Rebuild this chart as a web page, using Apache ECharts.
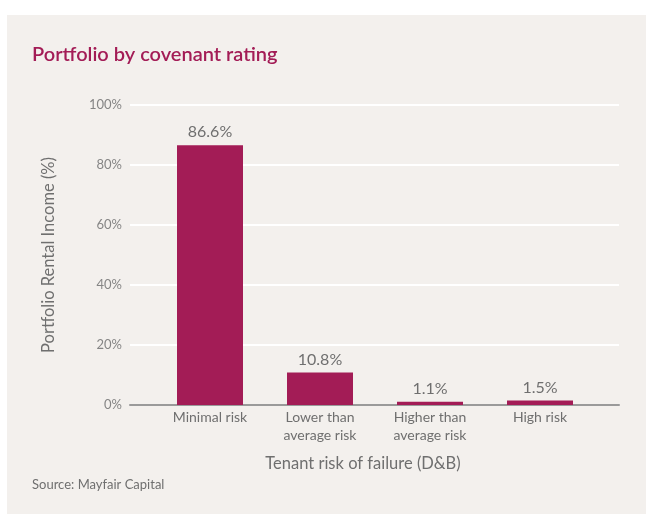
<!DOCTYPE html>
<html>
<head>
<meta charset="utf-8">
<script src="https://cdn.jsdelivr.net/npm/echarts@6/dist/echarts.min.js"></script>
<style>
  html, body { margin: 0; padding: 0; background: #ffffff; }
  #chart { width: 646px; height: 514px; }
</style>
</head>
<body>
<div id="chart"></div>
<script>
// Covenant rating categories (tenant risk of failure, D&B)
const categories = ['Minimal risk', 'Lower than\naverage risk', 'Higher than\naverage risk', 'High risk'];
// Share of portfolio rental income, %
const incomeShare = [86.6, 10.8, 1.1, 1.5];
// Y-axis tick range
const yMin = 0, yMax = 100, yStep = 20;

const FONT = 'Lato';
const BAR = '#A31C56';
const TEXT = '#6f6f6f';

const chart = echarts.init(document.getElementById('chart'), null, { renderer: 'canvas' });

chart.setOption({
  animation: false,
  textStyle: { fontFamily: FONT },
  graphic: [
    { type: 'rect', z: -10, shape: { x: 7, y: 15, width: 639, height: 499 }, style: { fill: '#f3f0ed' } },
    { type: 'text', left: 32, top: 45, style: { text: 'Portfolio by covenant rating', fill: '#A31C56', font: '600 20px ' + FONT } },
    { type: 'text', left: 32, top: 478, style: { text: 'Source: Mayfair Capital', fill: TEXT, font: '13px ' + FONT } }
  ],
  grid: [
    { left: 130, right: 27, top: 105, bottom: 109 },
    { left: 155, right: 51, top: 105, bottom: 109 }
  ],
  xAxis: [
    {
      gridIndex: 0, type: 'value', min: 0, max: 1,
      axisLine: { show: true, onZero: false, lineStyle: { color: '#9a9a9a', width: 2 } },
      axisTick: { show: false }, axisLabel: { show: false }, splitLine: { show: false }
    },
    {
      gridIndex: 1, type: 'category', data: categories,
      axisLine: { show: false }, axisTick: { show: false },
      axisLabel: { color: TEXT, fontSize: 14, lineHeight: 18, margin: 3, interval: 0 },
      name: 'Tenant risk of failure (D&B)', nameLocation: 'middle', nameGap: 50,
      nameTextStyle: { color: TEXT, fontSize: 16.5, padding: [0, 24, 0, 0] }
    }
  ],
  yAxis: [
    {
      gridIndex: 0, type: 'value', min: yMin, max: yMax, interval: yStep,
      axisLine: { show: false }, axisTick: { show: false },
      axisLabel: { formatter: '{value}%', color: '#858585', fontSize: 13, margin: 8 },
      splitLine: { lineStyle: { color: '#ffffff', width: 2 } },
      name: 'Portfolio Rental Income (%)', nameLocation: 'middle', nameGap: 73,
      nameTextStyle: { color: TEXT, fontSize: 16.5 }
    },
    {
      gridIndex: 1, type: 'value', min: yMin, max: yMax, show: false
    }
  ],
  series: [{
    type: 'bar', xAxisIndex: 1, yAxisIndex: 1,
    data: incomeShare, barWidth: 66,
    itemStyle: { color: BAR },
    label: {
      show: true, position: 'top', distance: 5,
      formatter: p => p.value.toFixed(1) + '%',
      color: TEXT, fontSize: 16
    }
  }]
});
</script>
</body>
</html>
